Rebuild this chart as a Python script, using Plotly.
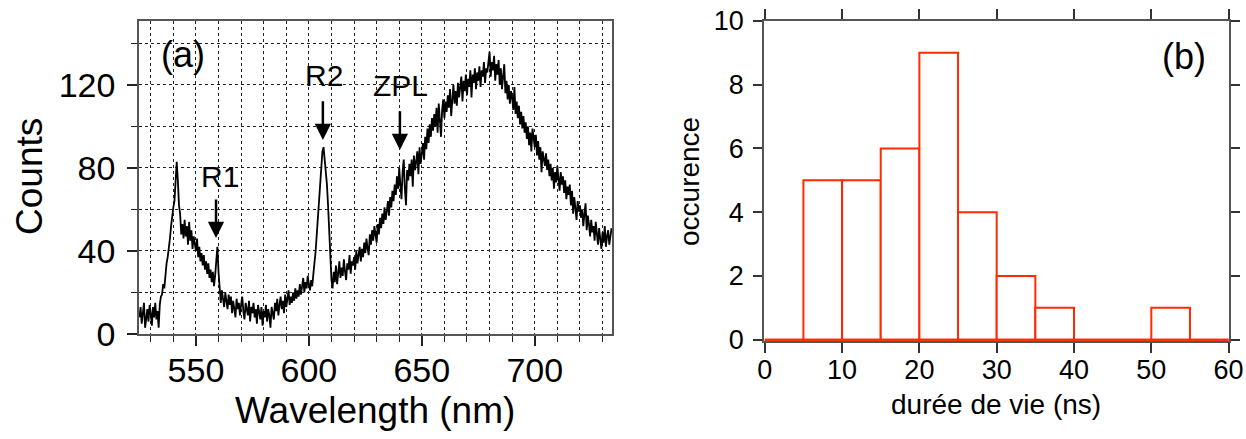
import plotly.graph_objects as go

# ---------------- data: panel (a) spectrum (0.5 nm steps from 525 nm) ----------------
wavelength_start = 525.0
wavelength_step = 0.5
counts = [
    8, 13, 5, 11, 15, 3, 9, 12, 6, 14,            # 525.0-529.5
    10, 4, 13, 8, 15, 7, 11, 3, 14, 18,           # 530
    19, 24, 22, 30, 34, 37, 41, 46, 52, 58,       # 535
    61, 64, 72, 83, 74, 62, 58, 48, 53, 46,       # 540
    55, 47, 52, 43, 54, 45, 50, 41, 47, 44,       # 545
    40, 46, 37, 42, 35, 39, 33, 38, 31, 35,       # 550
    29, 34, 27, 31, 25, 30, 23, 28, 36, 42,       # 555
    30, 22, 15, 21, 17, 13, 20, 16, 12, 19,       # 560
    14, 18, 10, 16, 13, 8, 17, 12, 15, 9,         # 565
    14, 18, 11, 7, 15, 12, 9, 16, 6, 13,          # 570
    10, 15, 8, 12, 5, 14, 10, 7, 13, 4,           # 575
    11, 8, 14, 6, 12, 9, 3, 13, 10, 7,            # 580
    15, 11, 17, 9, 14, 18, 12, 16, 10, 19,        # 585
    13, 17, 21, 14, 18, 15, 20, 16, 22, 17,       # 590
    21, 18, 24, 19, 23, 27, 20, 25, 22, 28,       # 595
    24, 21, 26, 23, 29, 34, 40, 48, 56, 66,       # 600
    75, 82, 88, 90, 85, 80, 72, 62, 50, 38,       # 605
    26, 22, 30, 25, 33, 24, 29, 35, 27, 32,       # 610
    28, 36, 30, 26, 34, 31, 38, 29, 35, 33,       # 615
    37, 31, 40, 34, 38, 42, 35, 41, 37, 44,       # 620
    39, 46, 41, 38, 48, 43, 50, 45, 52, 47,       # 625
    44, 53, 48, 56, 51, 58, 53, 61, 55, 59,       # 630
    64, 57, 66, 61, 69, 64, 72, 67, 76, 70,       # 635
    80, 72, 65, 78, 84, 70, 62, 79, 74, 82,       # 640
    76, 84, 71, 86, 79, 83, 88, 77, 90, 82,       # 645
    86, 92, 84, 95, 89, 99, 92, 101, 95, 104,     # 650
    98, 106, 100, 109, 97, 111, 103, 95, 108, 113,    # 655
    104, 112, 107, 115, 109, 118, 105, 114, 120, 111, # 660
    117, 110, 121, 114, 119, 124, 112, 122, 117, 125, # 665
    115, 123, 119, 127, 114, 125, 121, 128, 118, 126, # 670
    122, 129, 119, 127, 124, 131, 121, 128, 126, 133, # 675
    136, 124, 131, 127, 134, 122, 130, 125, 132, 120, # 680
    128, 118, 124, 130, 116, 122, 113, 120, 111, 117, # 685
    114, 108, 119, 106, 112, 104, 110, 101, 107, 99,  # 690
    105, 97, 102, 94, 100, 91, 97, 88, 99, 93,        # 695
    90, 96, 86, 93, 84, 90, 78, 88, 85, 81,           # 700
    87, 79, 84, 76, 82, 74, 80, 70, 78, 73,           # 705
    81, 75, 69, 78, 72, 76, 68, 74, 65, 71,           # 710
    67, 72, 62, 69, 58, 66, 61, 55, 64, 59,           # 715
    62, 56, 60, 52, 58, 63, 50, 57, 53, 47,           # 720
    55, 49, 52, 45, 54, 48, 43, 51, 46, 41,           # 725
    49, 44, 52, 42, 47, 50, 43, 48, 51,               # 730-734
]
wavelengths = [wavelength_start + wavelength_step * i for i in range(len(counts))]

peak_labels = ["R1", "R2", "ZPL"]
peak_arrow_x = [558.9, 606.2, 640.3]
peak_arrow_tip = [46.3, 93.5, 88.7]
peak_arrow_tail = [65.5, 112.8, 108.0]
peak_text_x = [560.6, 606.7, 640.7]
peak_text_y = [75.7, 124.3, 119.5]

# ---------------- data: panel (b) histogram ----------------
bin_edges = [0, 5, 10, 15, 20, 25, 30, 35, 40, 45, 50, 55, 60]
occurrences = [0, 5, 5, 6, 9, 4, 2, 1, 0, 0, 1, 0]

W, H = 1246, 439
FONT = "Liberation Sans, Arial, Helvetica, sans-serif"
RED = "#ff2a00"
FRAME = "#555555"

fig = go.Figure()

# spectrum
fig.add_trace(go.Scatter(
    x=wavelengths, y=counts, mode="lines",
    line=dict(color="black", width=1.8),
    xaxis="x", yaxis="y", showlegend=False, hoverinfo="skip"))

# histogram bars
centers = [(bin_edges[i] + bin_edges[i + 1]) / 2 for i in range(len(occurrences))]
widths = [bin_edges[i + 1] - bin_edges[i] for i in range(len(occurrences))]
fig.add_trace(go.Bar(
    x=centers, y=occurrences, width=widths,
    marker=dict(color="white", line=dict(color=RED, width=2)),
    xaxis="x2", yaxis="y2", showlegend=False, cliponaxis=False, hoverinfo="skip"))
fig.add_trace(go.Scatter(
    x=[bin_edges[0], bin_edges[-1]], y=[0, 0], mode="lines",
    line=dict(color=RED, width=2.2),
    xaxis="x2", yaxis="y2", showlegend=False, cliponaxis=False, hoverinfo="skip"))

dom_ax = [139 / W, 612 / W]
dom_ay = [1 - 334 / H, 1 - 21 / H]
dom_bx = [764 / W, 1229 / W]
dom_by = [1 - 341 / H, 1 - 21 / H]

tickfont_a = dict(family=FONT, size=34, color="black")
tickfont_b = dict(family=FONT, size=27, color="black")

fig.update_layout(
    width=W, height=H,
    margin=dict(l=0, r=0, t=0, b=0, pad=0, autoexpand=False),
    paper_bgcolor="white", plot_bgcolor="white",
    font=dict(family=FONT, color="black"),
    xaxis=dict(
        domain=dom_ax, range=[524.8, 734.2], anchor="y", automargin=False,
        dtick=50, tick0=0, ticks="outside", ticklen=10, tickwidth=1.5, tickcolor="#222",
        showline=True, linecolor=FRAME, linewidth=1.5, mirror=True,
        showgrid=True, gridcolor="#222", griddash="dot", gridwidth=1,
        zeroline=False, tickfont=tickfont_a, ticklabelstandoff=-5,
        minor=dict(dtick=10, ticks="outside", ticklen=6, tickwidth=1.2, tickcolor="#222",
                   showgrid=True, gridcolor="#222", griddash="dot", gridwidth=1),
    ),
    yaxis=dict(
        domain=dom_ay, range=[0, 150.8], anchor="x", automargin=False,
        dtick=40, tick0=0, ticks="outside", ticklen=10, tickwidth=1.5, tickcolor="#222",
        showline=True, linecolor=FRAME, linewidth=1.5, mirror=True,
        showgrid=True, gridcolor="#222", griddash="dot", gridwidth=1,
        zeroline=False, tickfont=tickfont_a, ticklabelstandoff=5,
        minor=dict(dtick=20, ticks="outside", ticklen=6, tickwidth=1.2, tickcolor="#222",
                   showgrid=True, gridcolor="#222", griddash="dot", gridwidth=1),
    ),
    xaxis2=dict(
        domain=dom_bx, range=[-0.1, 60.05], anchor="y2", automargin=False,
        dtick=10, tick0=0, ticks="outside", ticklen=10, tickwidth=1.5, tickcolor="#333",
        showline=True, linecolor=FRAME, linewidth=1.5, mirror="ticks",
        showgrid=False, zeroline=False, tickfont=tickfont_b, ticklabelstandoff=-6,
    ),
    yaxis2=dict(
        domain=dom_by, range=[-0.04, 10], anchor="x2", automargin=False,
        dtick=2, tick0=0, ticks="outside", ticklen=9, tickwidth=1.5, tickcolor="#333",
        showline=True, linecolor=FRAME, linewidth=1.5, mirror="ticks",
        showgrid=False, zeroline=False, tickfont=tickfont_b, ticklabelstandoff=4,
    ),
)

ann = []
# axis titles
ann.append(dict(text="Counts", xref="paper", yref="paper", x=30 / W, y=1 - 177 / H,
                textangle=-90, showarrow=False, font=dict(family=FONT, size=37),
                xanchor="center", yanchor="middle"))
ann.append(dict(text="Wavelength (nm)", xref="paper", yref="paper", x=375 / W, y=1 - 410 / H,
                showarrow=False, font=dict(family=FONT, size=37),
                xanchor="center", yanchor="middle"))
ann.append(dict(text="occurence", xref="paper", yref="paper", x=689 / W, y=1 - 182 / H,
                textangle=-90, showarrow=False, font=dict(family=FONT, size=28),
                xanchor="center", yanchor="middle"))
ann.append(dict(text="durée de vie (ns)", xref="paper", yref="paper", x=996 / W, y=1 - 404 / H,
                showarrow=False, font=dict(family=FONT, size=28),
                xanchor="center", yanchor="middle"))
# panel labels
ann.append(dict(text="(a)", xref="x", yref="y", x=544.3, y=134.5, showarrow=False,
                font=dict(family=FONT, size=36), xanchor="center", yanchor="middle"))
ann.append(dict(text="(b)", xref="x2", yref="y2", x=54.2, y=8.875, showarrow=False,
                font=dict(family=FONT, size=36), xanchor="center", yanchor="middle"))
# peak labels and arrows
for lab, ax_, tip, tail, tx, ty in zip(peak_labels, peak_arrow_x, peak_arrow_tip,
                                       peak_arrow_tail, peak_text_x, peak_text_y):
    ann.append(dict(text=lab, xref="x", yref="y", x=tx, y=ty, showarrow=False,
                    font=dict(family=FONT, size=30), xanchor="center", yanchor="middle"))
    ann.append(dict(text="", xref="x", yref="y", x=ax_, y=tip, axref="x", ayref="y",
                    ax=ax_, ay=tail, showarrow=True, arrowhead=2, arrowsize=1.3,
                    arrowwidth=2.5, arrowcolor="black", standoff=0))
fig.update_layout(annotations=ann)

fig.write_html("out.html")
